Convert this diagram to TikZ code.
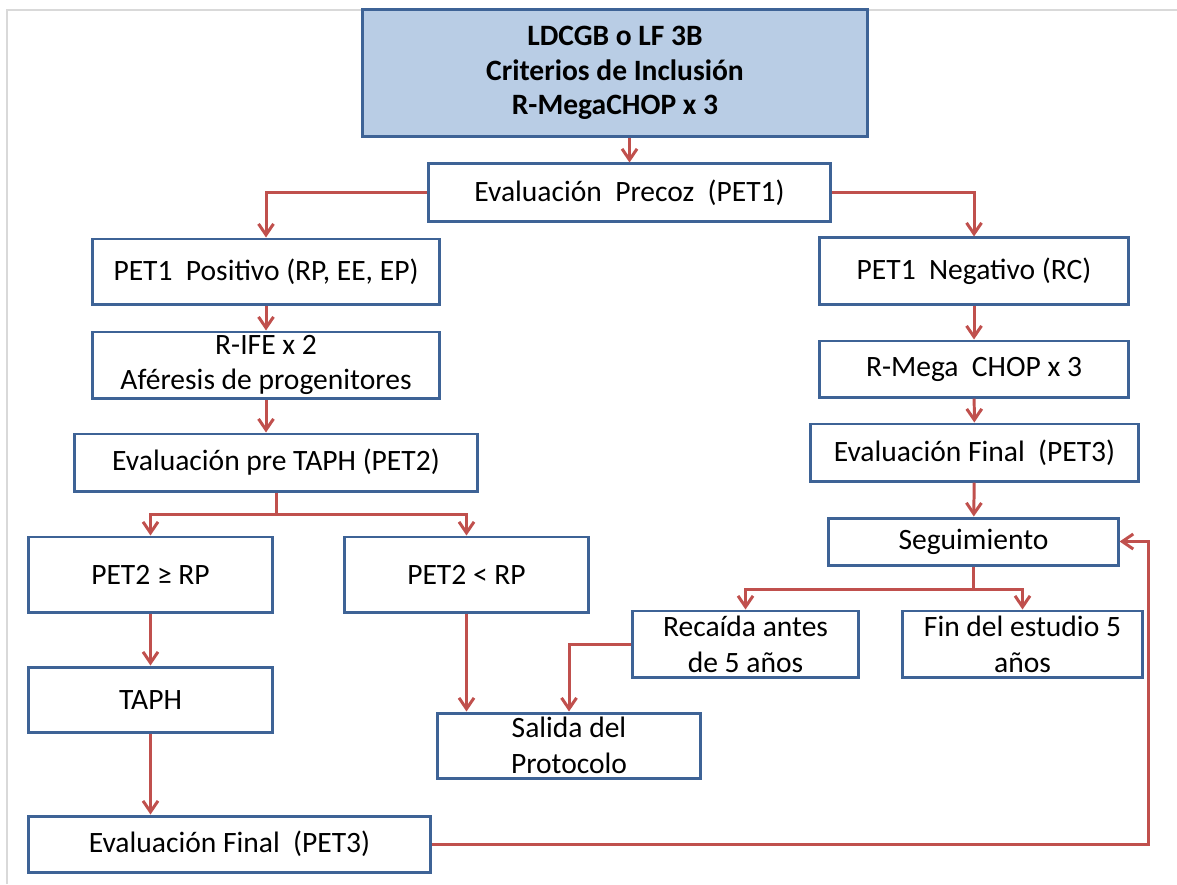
\documentclass[tikz,border=0pt]{standalone}
\usepackage{fontspec}
\setmainfont{Carlito}
\usetikzlibrary{arrows.meta}

\definecolor{boxblue}{HTML}{3E6396}
\definecolor{boxfill}{HTML}{B9CDE5}
\definecolor{linkred}{HTML}{C0504D}
\definecolor{framegray}{HTML}{D9D9D9}

\begin{document}
\begin{tikzpicture}[x=0.01cm, y=-0.01cm,
		box/.style={draw=boxblue, line width=0.85pt, fill=white, align=center,
			inner sep=0pt, font=\fontsize{8.4}{10.2}\selectfont},
		link/.style={draw=linkred, line width=0.85pt,
			-{Straight Barb[length=1.1mm,width=1.5mm,line width=0.85pt]}}]
				\useasboundingbox (0,0) rectangle (1177,884);
				% screenshot frame
				\draw [framegray, line width=0.4pt] (7,884) -- (7,10) -- (1177,10);
				
				% top
				\node [box, fill=boxfill, font=\fontsize{8.4}{9.8}\selectfont\bfseries,
					minimum width=5.04cm, minimum height=1.26cm] (start) at (615,73)
					{LDCGB o LF 3B\\Criterios de Inclusión\\R-MegaCHOP x 3};
				\node [box, minimum width=4.01cm, minimum height=0.57cm] (precoz) at (629.5,192.5)
					{Evaluación\ \ Precoz\ \ (PET1)};
				
				% PET1 positive side
				\node [box, minimum width=3.46cm, minimum height=0.65cm] (pos) at (266,271.5)
					{PET1\ \ Positivo (RP, EE, EP)};
				\node [box, minimum width=3.46cm, minimum height=0.66cm] (rife) at (266,365)
					{R-IFE x 2\\Aféresis de progenitores};
				\node [box, minimum width=4.02cm, minimum height=0.57cm] (pretaph) at (276,462.5)
					{Evaluación pre TAPH (PET2)};
				\node [box, minimum width=2.43cm, minimum height=0.75cm] (ge) at (150.5,574.5)
					{PET2 ≥ RP};
				\node [box, minimum width=2.43cm, minimum height=0.75cm] (lt) at (466.5,574.5)
					{PET2 < RP};
				\node [box, minimum width=2.43cm, minimum height=0.65cm] (taph) at (150.5,699.5)
					{TAPH};
				\node [box, minimum width=2.62cm, minimum height=0.65cm] (salida) at (569,745.5)
					{Salida del\\Protocolo};
				\node [box, minimum width=4.01cm, minimum height=0.56cm] (finalL) at (229.5,844)
					{Evaluación Final\ \ (PET3)};
				
				% PET1 negative side
				\node [box, minimum width=3.08cm, minimum height=0.66cm] (neg) at (974,271)
					{PET1\ \ Negativo (RC)};
				\node [box, minimum width=3.08cm, minimum height=0.56cm] (rmega) at (974,369)
					{R-Mega\ \ CHOP x 3};
				\node [box, minimum width=3.27cm, minimum height=0.57cm] (finalR) at (974.5,452.5)
					{Evaluación Final\ \ (PET3)};
				\node [box, minimum width=2.89cm, minimum height=0.47cm] (seg) at (973.5,541.5)
					{Seguimiento};
				\node [box, minimum width=2.25cm, minimum height=0.66cm] (recaida) at (745.5,644)
					{Recaída\ antes\\de 5 años};
				\node [box, minimum width=2.39cm, minimum height=0.66cm] (fin) at (1022.5,644)
					{Fin del\ estudio 5\\años};
				
				% connectors
				\draw [link] (start.south -| precoz.north) -- (precoz.north);
				\draw [link] (precoz.west) -| (pos.north);
				\draw [link] (precoz.east) -| (neg.north);
				\foreach \a/\b in {pos/rife, neg/rmega, rmega/finalR, finalR/seg, ge/taph}
					\draw [link] (\a) -- (\b);
				\draw [link] (rife.south) -- (rife.south |- pretaph.north);
				\foreach \b in {ge, lt}
					\draw [link] (pretaph.south) -- ++(0,22) -| (\b.north);
				\draw [link] (taph.south) -- (taph.south |- finalL.north);
				\draw [link] (lt.south) -- (lt.south |- salida.north);
				\draw [link] (recaida.west) -| (salida.north);
				\foreach \b in {recaida, fin}
					\draw [link] (seg.south) -- ++(0,23) -| (\b.north);
				% back to follow-up
				\coordinate (loop) at (1148,0);
				\draw [link] (finalL.east) -| (loop |- seg.east) -- (seg.east);
			\end{tikzpicture}
\end{document}
